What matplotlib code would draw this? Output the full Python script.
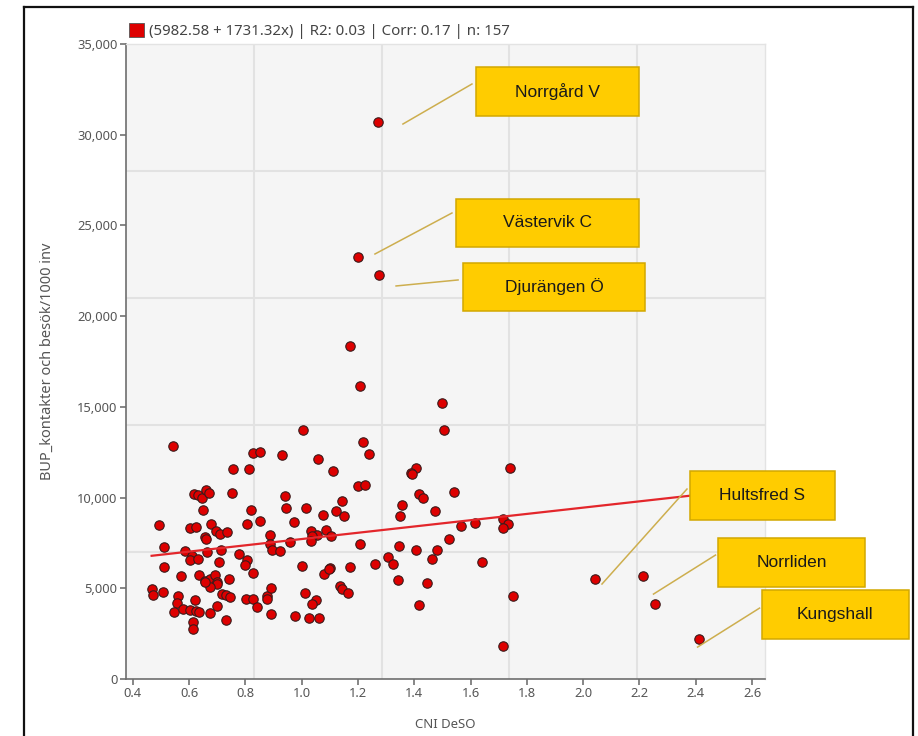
import matplotlib
matplotlib.use("Agg")
import matplotlib.pyplot as plt
import matplotlib.transforms as mtransforms
from matplotlib.patches import Rectangle, Patch
from matplotlib.lines import Line2D
from matplotlib.ticker import FuncFormatter, FixedLocator, MultipleLocator

# CNI DeSO (x) and BUP contacts / 1000 inv (y)
cni = [1.172, 1.207, 1.499, 1.507, 1.004, 0.544, 1.219, 1.239, 0.826, 0.851,
       0.930, 1.059, 1.110, 0.757, 0.812, 1.405, 1.389, 1.391, 1.741, 1.199,
       1.225, 0.618, 0.633, 0.645, 0.660, 0.670, 0.754, 0.941, 1.416, 1.432,
       1.542, 0.946, 1.016, 1.142, 1.122, 1.150, 1.075, 0.651, 0.820, 1.357,
       1.350, 1.475, 0.851, 0.805, 0.973, 0.494, 0.602, 0.624, 0.678, 0.695,
       0.710, 0.734, 0.657, 0.660, 0.887, 1.034, 1.054, 1.036, 1.086, 1.104,
       1.032, 0.958, 0.888, 1.207, 1.716, 1.733, 1.714, 1.566, 1.616, 1.525,
       1.346, 1.407, 1.480, 1.462, 1.307, 1.326, 1.641, 1.342, 1.444, 1.750,
       1.416, 1.714, 0.510, 0.586, 0.714, 0.664, 0.894, 0.922, 0.778, 0.610,
       0.604, 0.630, 0.805, 0.707, 0.510, 0.797, 1.000, 1.100, 1.172, 1.261,
       0.827, 1.080, 1.098, 0.573, 0.636, 0.658, 0.675, 0.692, 0.701, 0.698,
       0.675, 0.657, 0.741, 0.467, 0.471, 0.507, 0.561, 0.557, 0.620, 0.547,
       0.580, 0.604, 0.625, 0.637, 0.613, 0.613, 0.675, 0.698, 0.716, 0.731,
       0.747, 0.731, 0.802, 0.827, 0.840, 0.878, 0.878, 0.891, 0.891, 0.977,
       1.013, 1.050, 1.036, 1.025, 1.061, 1.136, 1.142, 1.166, 2.213]
bup = [18370, 16170, 15210, 13710, 13740, 12860, 13060, 12420, 12440, 12500,
       12330, 12130, 11470, 11560, 11580, 11630, 11370, 11300, 11650, 10660,
       10710, 10180, 10130, 9990, 10420, 10240, 10240, 10070, 10180, 9980,
       10310, 9430, 9430, 9790, 9240, 8970, 9020, 9310, 9310, 9570,
       8990, 9260, 8690, 8540, 8640, 8470, 8340, 8380, 8540, 8170,
       7990, 8120, 7810, 7720, 7950, 8160, 7950, 7880, 8210, 7870,
       7620, 7530, 7420, 7460, 8800, 8540, 8320, 8450, 8600, 7720,
       7350, 7110, 7110, 6610, 6720, 6320, 6430, 5470, 5290, 4590,
       4060, 1840, 7280, 7070, 7090, 6980, 7110, 7060, 6870, 6780,
       6560, 6600, 6540, 6450, 6150, 6300, 6230, 6140, 6190, 6350,
       5840, 5800, 6060, 5690, 5710, 5400, 5500, 5750, 5350, 5240,
       5090, 5330, 5530, 4980, 4630, 4810, 4560, 4190, 4340, 3680,
       3860, 3820, 3730, 3710, 3140, 2770, 3650, 4040, 4670, 4650,
       4540, 3240, 4430, 4430, 3990, 4580, 4430, 5030, 3600, 3460,
       4760, 4340, 4150, 3380, 3350, 5140, 4980, 4760, 5680]

# labelled areas
label_names = ["Norrgård V", "Västervik C", "Djurängen Ö", "Hultsfred S", "Norrliden", "Kungshall"]
label_x = [1.271, 1.200, 1.275, 2.042, 2.257, 2.410]
label_y = [30700, 23260, 22270, 5510, 4130, 2200]

# regression shown in legend
intercept = 5982.58
slope = 1731.32
legend_text = "(5982.58 + 1731.32x) | R2: 0.03 | Corr: 0.17 | n: 157"

x_ticks = [0.4, 0.6, 0.8, 1.0, 1.2, 1.4, 1.6, 1.8, 2.0, 2.2, 2.4, 2.6]

# callout layout in pixels relative to each point: line start, line end, box (left, bottom, w, h)
callouts = {
    "Norrgård V": ((25, -2), (94, 38), (98, 6, 163, 49)),
    "Västervik C": ((17, 3), (94, 44), (98, 10, 183, 48)),
    "Djurängen Ö": ((17, -11), (79, -5), (84, -36, 182, 48)),
    "Hultsfred S": ((7, -5), (92, 90), (95, 59, 145, 49)),
    "Norrliden": ((-2, 10), (60, 49), (63, 17, 147, 49)),
    "Kungshall": ((-1, -8), (61, 31), (63, 0, 147, 49)),
}

W, H = 918, 736
fig = plt.figure(figsize=(W / 100, H / 100), dpi=100)
ax = fig.add_axes([126 / W, 1 - 679 / H, 639 / W, 635 / H])
ax.set_facecolor("#F5F5F5")

xlim = (0.376, 2.646)
ylim = (0, 35000)
ax.set_xlim(*xlim)
ax.set_ylim(*ylim)

# grid splits the plot area in five, not at the ticks
ax.xaxis.set_minor_locator(FixedLocator([xlim[0] + i * (xlim[1] - xlim[0]) / 5 for i in range(1, 5)]))
ax.yaxis.set_minor_locator(FixedLocator([ylim[0] + i * (ylim[1] - ylim[0]) / 5 for i in range(1, 5)]))
ax.grid(which="minor", color="#E2E2E2", linewidth=1.5, zorder=0)
ax.tick_params(which="minor", length=0)
ax.set_axisbelow(True)

ax.set_xticks(x_ticks)
ax.xaxis.set_major_formatter(FuncFormatter(lambda v, _: f"{v:.1f}"))
ax.yaxis.set_major_locator(MultipleLocator(5000))
ax.yaxis.set_major_formatter(FuncFormatter(lambda v, _: f"{int(v):,}"))
ax.tick_params(which="major", length=4, width=1.1, color="#666666",
               labelsize=9.3, labelcolor="#555555", pad=2)
for lab in ax.get_xticklabels() + ax.get_yticklabels():
    lab.set_family("Noto Sans")

for side in ["top", "right"]:
    ax.spines[side].set_color("#E3E3E3")
    ax.spines[side].set_linewidth(1)
for side in ["left", "bottom"]:
    ax.spines[side].set_color("#6E6E6E")
    ax.spines[side].set_linewidth(1.2)

ax.set_xlabel("CNI DeSO", fontsize=9.5, color="#555555", family="Noto Sans", labelpad=13)
ax.set_ylabel("BUP_kontakter och besök/1000 inv", fontsize=10.5, color="#555555",
              family="Noto Sans", labelpad=16)

all_x = cni + label_x
all_y = bup + label_y
ax.scatter(all_x, all_y, s=46, color="#DD0000", edgecolor="#3A1A1A", linewidth=0.8, zorder=3)

lx = [min(all_x), max(all_x)]
ax.plot(lx, [intercept + slope * v for v in lx], color="#E3262B", linewidth=1.6, zorder=4)

ax.legend(handles=[Patch(facecolor="#DD0000", edgecolor="#555555", linewidth=0.6)],
          labels=[legend_text], loc="lower left", bbox_to_anchor=(-0.004, 1.0),
          frameon=False, handlelength=1.05, handleheight=1.05, handletextpad=0.3,
          borderaxespad=0.15, borderpad=0.2,
          prop={"family": "Noto Sans", "size": 10.8}, labelcolor="#444444")

# callouts drawn in pixel space
fig.canvas.draw()
ident = mtransforms.IdentityTransform()
for name, x, y in zip(label_names, label_x, label_y):
    px, py = ax.transData.transform((x, y))
    (sx, sy), (ex, ey), (bx, by, bw, bh) = callouts[name]
    fig.add_artist(Line2D([px + sx, px + ex], [py + sy, py + ey], transform=ident,
                          color="#CDAE4E", linewidth=1.1, zorder=5))
    fig.add_artist(Rectangle((px + bx, py + by), bw, bh, transform=ident,
                             facecolor="#FFCC00", edgecolor="#D2A800", linewidth=1.1, zorder=6))
    fig.text(px + bx + bw / 2, py + by + bh / 2, name, transform=ident, ha="center", va="center",
             fontsize=12.5, family="Liberation Sans", color="#1A1A1A", zorder=7)

# screenshot frame
for xs, ys in [([24, 24], [H - 7, -5]), ([24, 913], [H - 7, H - 7]), ([913, 913], [H - 7, -5])]:
    fig.add_artist(Line2D(xs, ys, transform=ident, color="#111111", linewidth=1.6))

fig.savefig("out.png", dpi=100)
